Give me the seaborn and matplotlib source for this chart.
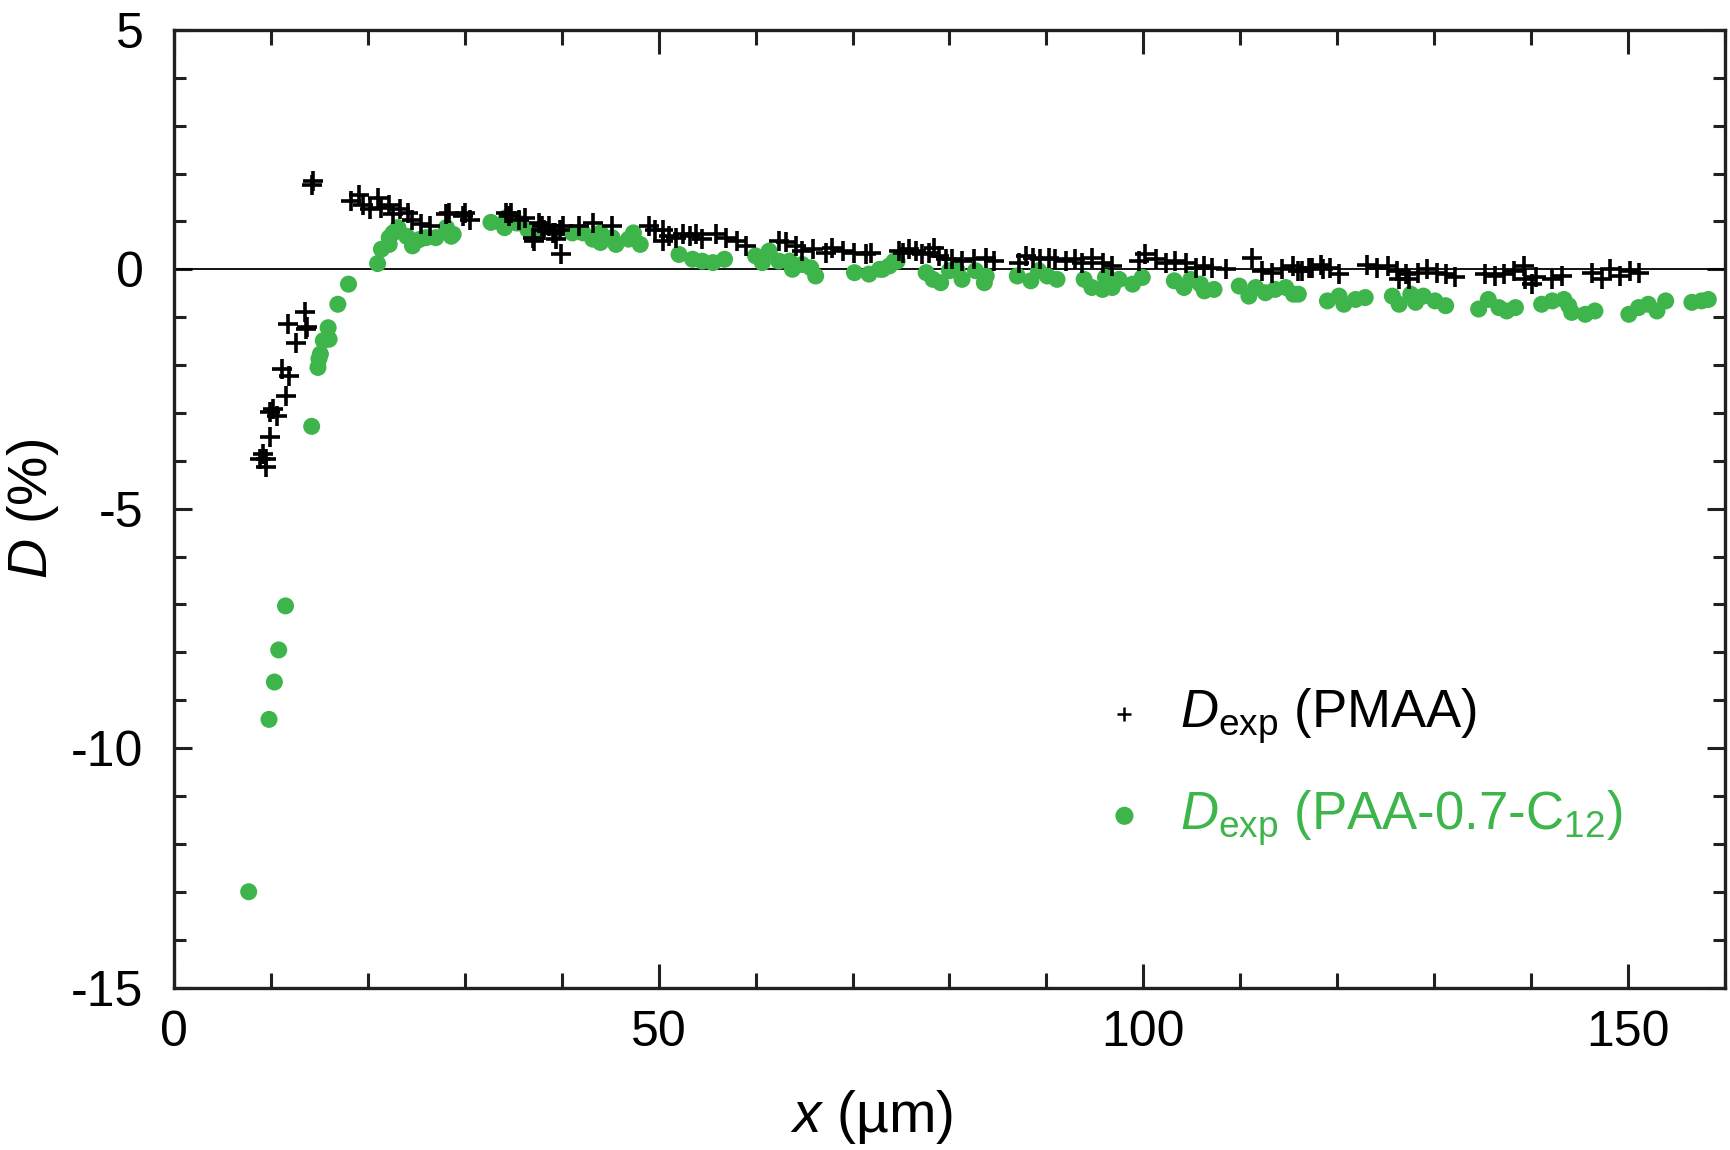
import matplotlib
matplotlib.use('Agg')
import matplotlib.pyplot as plt
import seaborn as sns
import pandas as pd
from matplotlib.ticker import MultipleLocator

# значения (x в мкм, D в %)
pmaa_x = [8.9, 9.2, 9.5, 9.5, 9.9, 9.9, 10.2, 10.6, 11.6, 11.1, 11.9, 11.8, 12.6, 13.5, 13.6, 13.7,
          14.2, 14.3, 18.3, 19.1, 19.5, 20.2, 21.0, 21.4, 22.2, 22.6, 23.3, 24.1, 24.6, 25.5, 26.4,
          28.1, 28.4, 29.8, 30.0, 30.5, 34.3, 34.6, 34.8, 35.6, 36.2, 37.0, 37.1, 37.7, 38.0, 38.2,
          38.7, 39.1, 39.3, 39.4, 39.8, 39.9, 40.1, 41.8, 43.2, 45.2, 49.0, 49.6, 50.4, 50.4, 51.1,
          51.8, 52.5, 53.2, 53.9, 54.5, 55.9, 56.9, 58.1, 59.0, 62.4, 63.1, 64.2, 64.8, 65.9, 67.3,
          67.9, 69.0, 70.2, 71.4, 71.9, 74.8, 75.2, 75.8, 76.5, 77.2, 77.9, 78.4, 78.9, 79.6, 80.3,
          81.3, 82.5, 83.8, 84.6, 87.2, 87.9, 88.6, 89.3, 90.3, 90.9, 92.0, 93.0, 93.7, 94.7, 95.8,
          96.8, 99.6, 100.2, 101.3, 102.3, 103.3, 104.4, 105.4, 106.3, 107.1, 108.5, 111.2, 112.3,
          113.3, 114.3, 115.4, 116.0, 116.4, 117.1, 117.4, 118.3, 118.5, 119.3, 120.2, 123.1, 124.1,
          125.2, 126.2, 126.4, 127.1, 127.4, 128.3, 129.3, 130.3, 131.2, 132.2, 135.3, 136.3, 137.2,
          138.2, 139.3, 139.4, 140.1, 140.5, 142.2, 143.2, 146.3, 147.3, 148.2, 149.2, 150.2, 151.1]
pmaa_d = [-3.96, -3.85, -3.96, -4.13, -3.51, -2.99, -2.92, -3.06, -2.64, -2.08, -2.22, -1.15, -1.53,
          -0.90, -1.25, -1.20, 1.77, 1.84, 1.42, 1.56, 1.35, 1.25, 1.49, 1.28, 1.35, 1.15, 1.25, 1.18,
          1.04, 0.94, 0.90, 1.15, 1.18, 1.11, 1.18, 1.04, 1.18, 1.11, 1.18, 1.04, 1.08, 0.66, 0.59,
          0.97, 0.90, 0.83, 0.90, 0.76, 0.76, 0.63, 0.83, 0.31, 0.90, 0.90, 0.97, 0.90, 0.90, 0.83,
          0.83, 0.59, 0.69, 0.66, 0.73, 0.69, 0.73, 0.63, 0.73, 0.66, 0.59, 0.49, 0.59, 0.56, 0.49,
          0.38, 0.42, 0.35, 0.45, 0.38, 0.35, 0.31, 0.35, 0.38, 0.35, 0.42, 0.38, 0.31, 0.35, 0.45,
          0.28, 0.21, 0.21, 0.17, 0.21, 0.24, 0.17, 0.14, 0.28, 0.24, 0.21, 0.24, 0.21, 0.17, 0.21,
          0.14, 0.24, 0.14, 0.07, 0.17, 0.31, 0.21, 0.14, 0.17, 0.14, 0.03, 0.07, 0.03, 0.00, 0.24,
          -0.03, -0.07, 0.00, 0.07, -0.03, -0.03, 0.03, 0.03, 0.10, 0.00, 0.03, -0.10, 0.10, 0.03,
          0.07, -0.03, -0.21, -0.10, -0.21, -0.07, 0.00, -0.07, -0.10, -0.17, -0.10, -0.14, -0.10,
          -0.03, 0.07, -0.21, -0.31, -0.17, -0.21, -0.14, -0.07, -0.21, 0.00, -0.14, -0.03, -0.07]

paa_x = [7.7, 9.8, 10.35, 10.8, 11.5, 14.2, 14.85, 14.95, 15.1, 15.4, 16.0, 15.9, 16.9, 18.0, 21.0,
         21.4, 22.2, 22.2, 22.6, 23.1, 24.0, 24.6, 25.3, 26.0, 27.0, 28.1, 28.6, 28.8, 32.7, 34.1,
         34.3, 34.3, 35.3, 35.5, 36.5, 37.7, 41.1, 42.2, 43.2, 44.0, 44.0, 45.2, 45.6, 46.9, 47.4,
         48.1, 52.1, 53.5, 54.5, 55.6, 56.8, 60.0, 61.4, 60.7, 62.4, 63.5, 63.8, 64.8, 65.7, 66.2,
         70.2, 71.7, 72.8, 73.8, 74.6, 73.1, 74.3, 77.6, 78.3, 79.1, 80.0, 80.8, 81.3, 82.7, 83.6,
         83.8, 87.0, 88.4, 89.2, 90.1, 91.1, 93.9, 94.7, 95.8, 96.1, 96.8, 97.5, 98.9, 99.9, 103.2,
         104.2, 104.9, 105.9, 106.3, 107.3, 109.9, 110.9, 111.6, 112.6, 113.6, 114.7, 115.5, 116.0,
         119.0, 120.2, 120.7, 121.9, 122.9, 125.7, 126.4, 127.6, 128.1, 128.9, 130.1, 131.2, 134.6,
         135.6, 136.7, 137.5, 138.4, 141.1, 142.2, 143.4, 144.2, 143.9, 145.6, 146.6, 150.1, 151.1,
         152.1, 153.0, 153.9, 156.6, 157.6, 158.3]
paa_d = [-13.0, -9.4, -8.62, -7.95, -7.03, -3.28, -2.05, -1.87, -1.77, -1.49, -1.46, -1.22, -0.73,
         -0.31, 0.12, 0.42, 0.52, 0.66, 0.76, 0.87, 0.69, 0.49, 0.62, 0.66, 0.66, 0.87, 0.69, 0.73,
         0.98, 0.87, 1.04, 1.08, 0.97, 0.97, 0.83, 0.83, 0.76, 0.76, 0.63, 0.56, 0.76, 0.66, 0.52,
         0.63, 0.76, 0.52, 0.31, 0.21, 0.17, 0.14, 0.21, 0.28, 0.38, 0.14, 0.17, 0.17, 0.00, 0.10,
         0.03, -0.14, -0.07, -0.10, 0.00, 0.07, 0.17, 0.00, 0.17, -0.07, -0.21, -0.28, -0.03, -0.03,
         -0.21, -0.03, -0.28, -0.14, -0.14, -0.24, -0.03, -0.14, -0.21, -0.21, -0.38, -0.42, -0.17,
         -0.38, -0.21, -0.31, -0.17, -0.24, -0.38, -0.21, -0.31, -0.45, -0.42, -0.35, -0.56, -0.38,
         -0.49, -0.42, -0.38, -0.52, -0.52, -0.66, -0.56, -0.73, -0.63, -0.59, -0.56, -0.73, -0.52,
         -0.69, -0.56, -0.66, -0.76, -0.83, -0.63, -0.80, -0.87, -0.80, -0.73, -0.66, -0.63, -0.90,
         -0.76, -0.94, -0.87, -0.94, -0.80, -0.73, -0.87, -0.66, -0.69, -0.66, -0.63]

green = '#3db54a'
dark = '#231f20'

sns.set_style('ticks')
plt.rcParams['font.family'] = ['Liberation Sans', 'DejaVu Sans']
plt.rcParams['axes.unicode_minus'] = False
plt.rcParams['mathtext.fontset'] = 'custom'
plt.rcParams['mathtext.rm'] = 'Liberation Sans'
plt.rcParams['mathtext.it'] = 'Liberation Sans:italic'

df_pmaa = pd.DataFrame({'x': pmaa_x, 'D': pmaa_d})
df_paa = pd.DataFrame({'x': paa_x, 'D': paa_d})

fig = plt.figure(figsize=(17.3, 11.5), dpi=100)
ax = fig.add_axes([0.1006, 0.1413, 0.8964, 0.8327])

ax.axhline(0, color='black', lw=1.3, zorder=1)

sns.scatterplot(data=df_paa, x='x', y='D', ax=ax, color=green, s=150, edgecolor='none',
                label=r'$D_{\mathrm{exp}}$ (PAA-0.7-C$_{12}$)', zorder=2)
sns.scatterplot(data=df_pmaa, x='x', y='D', ax=ax, color='black', marker='+', s=200,
                linewidth=2.6, label=r'$D_{\mathrm{exp}}$ (PMAA)', zorder=3)

ax.set_xlim(0, 160)
ax.set_ylim(-15, 5)
ax.xaxis.set_major_locator(MultipleLocator(50))
ax.xaxis.set_minor_locator(MultipleLocator(10))
ax.yaxis.set_major_locator(MultipleLocator(5))
ax.yaxis.set_minor_locator(MultipleLocator(1))

for s in ax.spines.values():
    s.set_linewidth(2.4)
    s.set_color(dark)
ax.tick_params(which='both', direction='in', top=True, right=True, color=dark, width=2.2,
               labelcolor='black')
ax.tick_params(axis='x', which='major', length=17, labelsize=36, pad=16)
ax.tick_params(axis='x', which='minor', length=11)
ax.tick_params(axis='y', which='major', length=13, labelsize=36, pad=22)
ax.tick_params(axis='y', which='minor', length=8.5)

ax.set_xlabel(r'$x$ (µm)', fontsize=41, color='black')
ax.set_ylabel(r'$D$ (%)', fontsize=40, color='black')
ax.xaxis.set_label_coords(0.45, -0.105)
ax.yaxis.set_label_coords(-0.073, 0.5)

h, l = ax.get_legend_handles_labels()
leg = ax.legend([h[1], h[0]], [l[1], l[0]], loc='center left', bbox_to_anchor=(0.555, 0.23),
                frameon=False, prop={'family': 'Liberation Sans', 'size': 38},
                labelcolor=['black', green], handletextpad=0.25, labelspacing=0.8,
                handlelength=1.6)
leg.legend_handles[0].set_sizes([90])
leg.legend_handles[0].set_linewidth(1.8)
leg.legend_handles[1].set_sizes([170])

fig.savefig('out.png', dpi=100)
